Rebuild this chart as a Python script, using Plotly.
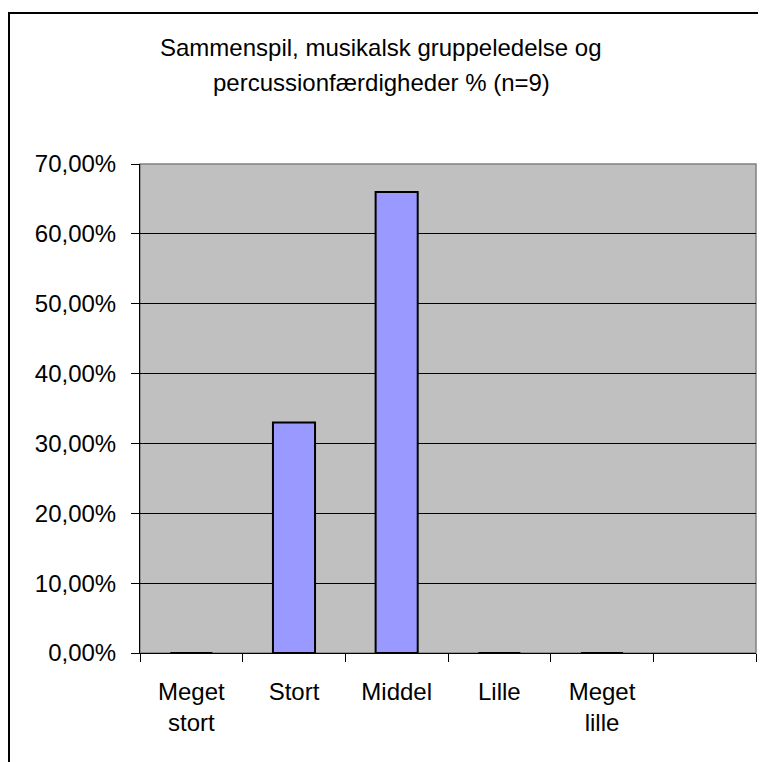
import plotly.graph_objects as go

categories = ["Meget<br>stort", "Stort", "Middel", "Lille", "Meget<br>lille", " "]
values = [0, 33, 66, 0, 0, None]
tick_values = [0, 10, 20, 30, 40, 50, 60, 70]
tick_labels = ["0,00%", "10,00%", "20,00%", "30,00%", "40,00%", "50,00%", "60,00%", "70,00%"]
title_lines = ["Sammenspil, musikalsk gruppeledelse og", "percussionfærdigheder % (n=9)"]

# page has an 8px body margin, so the figure is placed at (8, 8)
W, H = 758, 754
L, R, T, B = 132, 10, 156, 109
pw, ph = W - L - R, H - T - B

fig = go.Figure()
fig.add_trace(go.Bar(
    x=categories, y=values,
    marker=dict(color="#9999FF", line=dict(color="#000000", width=2)),
    width=0.41,
))

font = "Liberation Sans, Arial, sans-serif"
fig.update_layout(
    width=W, height=H,
    margin=dict(l=L, r=R, t=T, b=B),
    paper_bgcolor="white",
    plot_bgcolor="#C0C0C0",
    showlegend=False,
    font=dict(family=font, size=24, color="black"),
)
# title, two lines
for i, line in enumerate(title_lines):
    ypix = 39 + 35 * i
    fig.add_annotation(text=line, xref="paper", yref="paper",
                       x=(373 - L) / pw, y=(H - B - ypix) / ph,
                       xanchor="center", yanchor="middle", showarrow=False,
                       font=dict(family=font, size=24, color="black"))

fig.update_xaxes(
    type="category", ticks="outside", tickson="boundaries", ticklen=8,
    tickcolor="#000000", showline=True, linecolor="#000000", linewidth=1,
    showgrid=False, tickfont=dict(size=24), ticklabelstandoff=17,
)
fig.update_yaxes(
    range=[0, 70], tickvals=tick_values, ticktext=tick_labels,
    ticks="outside", ticklen=8, tickcolor="#000000",
    showline=True, linecolor="#000000", linewidth=1,
    showgrid=True, gridcolor="#000000", gridwidth=1,
    zeroline=False, tickfont=dict(size=24), ticklabelstandoff=10,
)
# plot-area border (top/right in gray)
fig.add_shape(type="rect", xref="paper", yref="paper", x0=0, y0=0, x1=1, y1=1,
              line=dict(color="#808080", width=1.5), layer="below")
# outer chart frame: left edge at x=0, top at y=4 (figure px), extending past right/bottom
fig.add_shape(type="rect", xref="paper", yref="paper",
              x0=(1 - L) / pw, y0=(H - B - 5) / ph,
              x1=(W + 20 - L) / pw, y1=(H - B - (H + 20)) / ph,
              line=dict(color="#000000", width=2))
fig.write_html("out.html")
